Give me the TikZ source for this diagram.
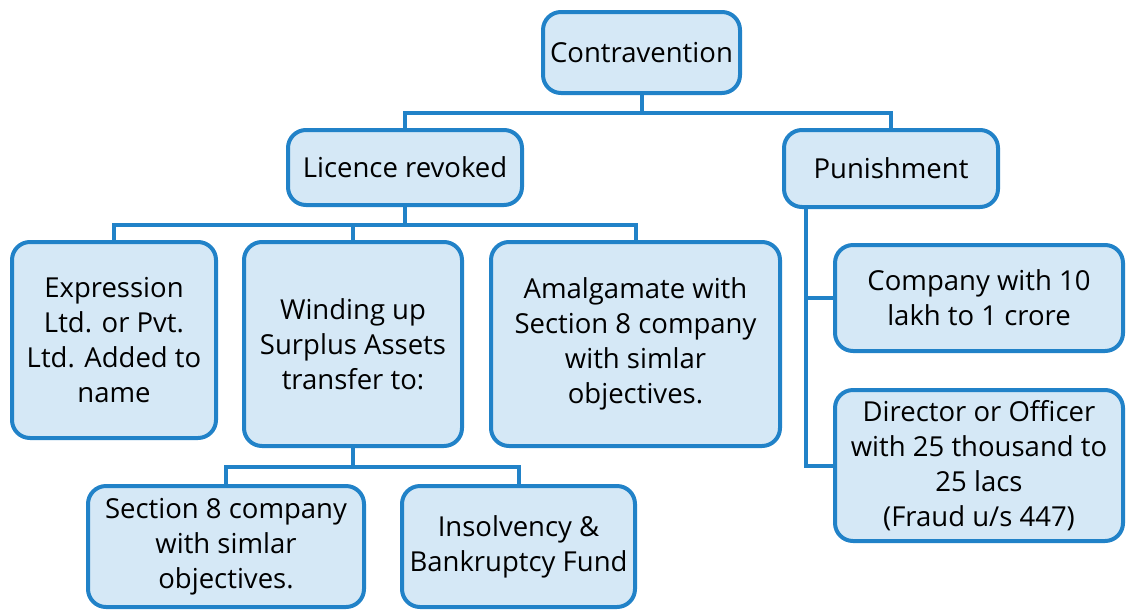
\documentclass[tikz,border=0pt]{standalone}
\usepackage{fontspec}
\setmainfont{Open Sans}
\usepackage{tikz}
\definecolor{boxline}{HTML}{2182C8}
\definecolor{boxfill}{HTML}{D5E8F6}

\begin{document}
\begin{tikzpicture}[x=1pt,y=-1pt,
    box/.style={draw=boxline,fill=boxfill,line width=4pt,rounded corners=18pt,
      align=center,inner sep=0pt,font=\fontsize{27.5}{35}\selectfont},
    link/.style={draw=boxline,line width=4pt}]
      \useasboundingbox (0,0) rectangle (1126,611);
      \node[box,minimum width=197,minimum height=81] (contra) at (641.5,52.5) {Contravention};
      \node[box,minimum width=234,minimum height=75] (licence) at (405,167.5) {Licence revoked};
      \node[box,minimum width=214,minimum height=77] (punish) at (891,168.5) {Punishment};
      \node[box,minimum width=204,minimum height=196] (express) at (114,340) {Expression\\Ltd. or Pvt.\\Ltd. Added to\\name};
      \node[box,minimum width=218,minimum height=204] (winding) at (353,344) {Winding up\\Surplus Assets\\transfer to:};
      \node[box,minimum width=289,minimum height=204] (amalg) at (635.5,344) {Amalgamate with\\Section 8 company\\with simlar\\objectives.};
      \node[box,minimum width=288,minimum height=106] (company) at (979,298) {Company with 10\\lakh to 1 crore};
      \node[box,minimum width=288,minimum height=151] (director) at (979,465.5) {Director or Officer\\with 25 thousand to\\25 lacs\\(Fraud u/s 447)};
      \node[box,minimum width=276,minimum height=121] (sec8) at (226,546.5) {Section 8 company\\with simlar\\objectives.};
      \node[box,minimum width=233,minimum height=121] (insolv) at (518.5,546.5) {Insolvency \&\\Bankruptcy Fund};
      \coordinate (bus1) at (641.5,113);
      \coordinate (bus2) at (405,225);
      \coordinate (bus3) at (353,467);
      \coordinate (trunk) at (806,0);
      \path[link]
      (contra.south) -- (bus1)
      (bus1) -| (licence.north)
      (bus1) -| (punish.north)
      (licence.south) -- (bus2)
      (bus2) -| (express.north)
      (bus2) -| (winding.north)
      (bus2) -| (amalg.north)
      (winding.south) -- (bus3)
      (bus3) -| (sec8.north)
      (bus3) -| (insolv.north)
      (punish.south -| trunk) -- (director.west -| trunk) -- (director.west)
      (company.west -| trunk) -- (company.west);
    \end{tikzpicture}
\end{document}
